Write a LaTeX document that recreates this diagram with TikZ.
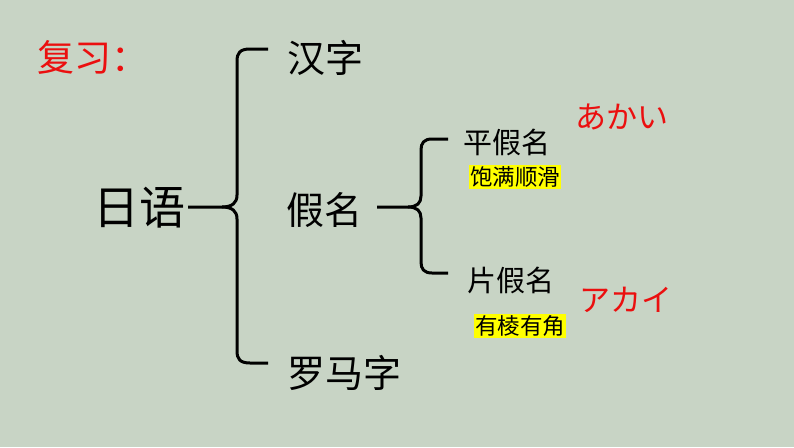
\documentclass[tikz,border=0pt]{standalone}
\usepackage{fontspec}
\newfontfamily\cjk{Noto Sans CJK SC}
\newfontfamily\jp{Noto Sans CJK JP}
\definecolor{bg}{RGB}{200,212,197}
\definecolor{myred}{RGB}{235,15,15}
\definecolor{hl}{RGB}{255,255,0}
\begin{document}
\begin{tikzpicture}[x=1pt,y=-1pt,
  lbl/.style={font=\cjk, inner sep=0pt, text=black},
  big/.style={lbl, font=\cjk\fontsize{46}{46}\selectfont},
  mid/.style={lbl, font=\cjk\fontsize{38}{38}\selectfont},
  small/.style={lbl, font=\cjk\fontsize{29}{29}\selectfont},
  hilite/.style={font=\cjk\fontsize{22.5}{22.5}\selectfont, fill=hl, inner xsep=1pt, inner ysep=1.5pt, text=black},
  kana/.style={font=\jp\fontsize{31}{31}\selectfont, text=myred, inner sep=0pt},
  brace/.style={draw=black, line width=3pt, line join=round}]
\fill[bg] (0,0) rectangle (794,447);
\useasboundingbox (0,0) rectangle (794,447);

\node[font=\cjk\fontsize{37}{37}\selectfont, text=myred, inner sep=0pt, anchor=west] (title) at (37,57) {复习：};

\node[big] (riyu) at (139,208) {日语};
\node[mid] (hanzi) at (325,58) {汉字};
\node[mid] (jiaming) at (324,210) {假名};
\node[mid] (luoma) at (344,373) {罗马字};

\node[small] (ping) at (507,142) {平假名};
\node[hilite] (pingnote) at (515,177) {饱满顺滑};
\node[small] (pian) at (511,280) {片假名};
\node[hilite] (piannote) at (520,326) {有棱有角};

\node[kana] (hira) at (622,117) {あかい};
\node[kana] (kata) at (626,300) {アカイ};

% first brace
\coordinate (b1top) at (268,49);
\coordinate (b1bot) at (268,363);
\draw[brace] (188,207) -- (222,207)
  .. controls (232,207) and (237,203) .. (237,195) -- (237,61)
  .. controls (237,53) and (240,49) .. (250,49) -- (b1top);
\draw[brace] (222,207)
  .. controls (232,207) and (237,211) .. (237,219) -- (237,351)
  .. controls (237,359) and (240,363) .. (250,363) -- (b1bot);

% second brace
\coordinate (b2top) at (448,139);
\coordinate (b2bot) at (448,273);
\draw[brace] (377,207) -- (408,207)
  .. controls (417,207) and (421,203) .. (421,196) -- (421,150)
  .. controls (421,143) and (424,139) .. (432,139) -- (b2top);
\draw[brace] (408,207)
  .. controls (417,207) and (421,211) .. (421,218) -- (421,262)
  .. controls (421,269) and (424,273) .. (432,273) -- (b2bot);
\end{tikzpicture}
\end{document}
